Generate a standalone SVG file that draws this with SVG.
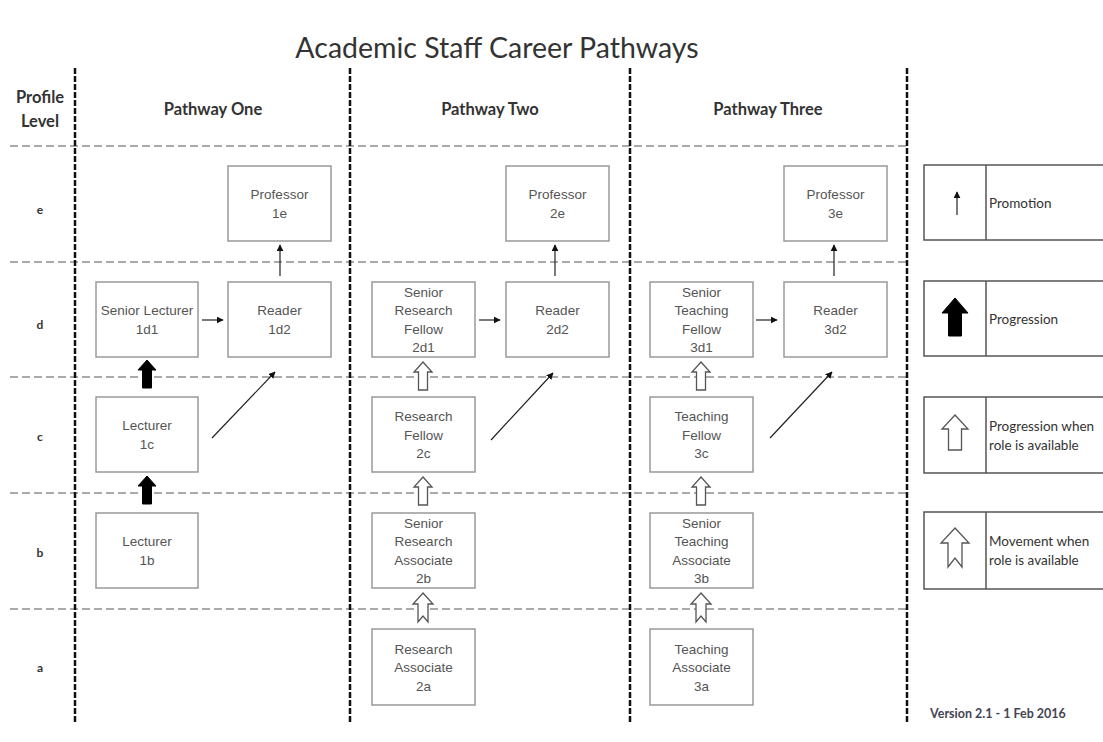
<svg xmlns="http://www.w3.org/2000/svg" width="1103" height="742" viewBox="0 0 1103 742">
<defs>
<style>
.title{font-family:Lato,"Liberation Sans",sans-serif;font-size:28.5px;fill:#333;text-anchor:middle}
.hdr{font-family:Lato,"Liberation Sans",sans-serif;font-size:16.5px;font-weight:bold;fill:#333;text-anchor:middle}
.row{font-family:Lato,"Liberation Sans",sans-serif;font-size:12px;font-weight:bold;fill:#333;text-anchor:middle}
.box{fill:#fff;stroke:#999;stroke-width:1.5}
.nt{font-family:"Liberation Sans",Arial,sans-serif;font-size:13.5px;fill:#555;text-anchor:middle}
.vl{stroke:#111;stroke-width:2.5;stroke-dasharray:6 2;fill:none}
.hl{stroke:#aaa;stroke-width:2;stroke-dasharray:8 4;fill:none}
.thin{stroke:#222;stroke-width:1.2;fill:none;marker-end:url(#ah)}
.prog{fill:#000;stroke:#000;stroke-width:1}
.hol{fill:#fff;stroke:#555;stroke-width:1.3}
.lg{fill:#fff;stroke:#555;stroke-width:1.5}
.lt{font-family:Lato,"Liberation Sans",sans-serif;font-size:13.5px;fill:#333}
</style>
<marker id="ah" viewBox="0 0 10 10" refX="9" refY="5" markerWidth="7" markerHeight="7" orient="auto" markerUnits="userSpaceOnUse">
<path d="M0,0 L10,5 L0,10 Z" fill="#111"/>
</marker>
<path id="pa" d="M0,0 L9,10 L4.5,10 L4.5,28 L-4.5,28 L-4.5,10 L-9,10 Z"/>
<path id="ma" d="M0,0 L10,11 L5,11 L5,29 L0,23 L-5,29 L-5,11 L-10,11 Z"/>
</defs>
<rect width="1103" height="742" fill="#fff"/>
<text class="title" x="497" y="58">Academic Staff Career Pathways</text>

<g id="grid">
<line class="hl" x1="10" y1="146" x2="907" y2="146"/>
<line class="hl" x1="10" y1="262" x2="907" y2="262"/>
<line class="hl" x1="10" y1="377" x2="907" y2="377"/>
<line class="hl" x1="10" y1="493" x2="907" y2="493"/>
<line class="hl" x1="10" y1="609" x2="907" y2="609"/>
<line class="vl" x1="75" y1="68" x2="75" y2="722"/>
<line class="vl" x1="350" y1="68" x2="350" y2="722"/>
<line class="vl" x1="630" y1="68" x2="630" y2="722"/>
<line class="vl" x1="907" y1="68" x2="907" y2="722"/>
</g>

<g id="headers">
<text class="hdr" x="40" y="103">Profile</text>
<text class="hdr" x="40" y="127">Level</text>
<text class="hdr" x="213" y="115">Pathway One</text>
<text class="hdr" x="490" y="115">Pathway Two</text>
<text class="hdr" x="768" y="115">Pathway Three</text>
<text class="row" x="40" y="214">e</text>
<text class="row" x="40" y="329">d</text>
<text class="row" x="40" y="441">c</text>
<text class="row" x="40" y="557">b</text>
<text class="row" x="40" y="672">a</text>
</g>

<g id="n1e"><rect class="box" x="228" y="166" width="103" height="75"/><text class="nt" x="279.5" y="199">Professor</text><text class="nt" x="279.5" y="217.5">1e</text></g>
<g id="n1d1"><rect class="box" x="96" y="282" width="102" height="75"/><text class="nt" x="147" y="315">Senior Lecturer</text><text class="nt" x="147" y="333.5">1d1</text></g>
<g id="n1d2"><rect class="box" x="228" y="282" width="103" height="75"/><text class="nt" x="279.5" y="315">Reader</text><text class="nt" x="279.5" y="333.5">1d2</text></g>
<g id="n1c"><rect class="box" x="96" y="397" width="102" height="75"/><text class="nt" x="147" y="430">Lecturer</text><text class="nt" x="147" y="448.5">1c</text></g>
<g id="n1b"><rect class="box" x="96" y="513" width="102" height="75"/><text class="nt" x="147" y="546">Lecturer</text><text class="nt" x="147" y="564.5">1b</text></g>

<g id="n2e"><rect class="box" x="506" y="166" width="103" height="75"/><text class="nt" x="557.5" y="199">Professor</text><text class="nt" x="557.5" y="217.5">2e</text></g>
<g id="n2d1"><rect class="box" x="372" y="282" width="103" height="75"/><text class="nt" x="423.5" y="296.5">Senior</text><text class="nt" x="423.5" y="315">Research</text><text class="nt" x="423.5" y="333.5">Fellow</text><text class="nt" x="423.5" y="352">2d1</text></g>
<g id="n2d2"><rect class="box" x="506" y="282" width="103" height="75"/><text class="nt" x="557.5" y="315">Reader</text><text class="nt" x="557.5" y="333.5">2d2</text></g>
<g id="n2c"><rect class="box" x="372" y="397" width="103" height="75"/><text class="nt" x="423.5" y="421">Research</text><text class="nt" x="423.5" y="439.5">Fellow</text><text class="nt" x="423.5" y="458">2c</text></g>
<g id="n2b"><rect class="box" x="372" y="513" width="103" height="75"/><text class="nt" x="423.5" y="527.5">Senior</text><text class="nt" x="423.5" y="546">Research</text><text class="nt" x="423.5" y="564.5">Associate</text><text class="nt" x="423.5" y="583">2b</text></g>
<g id="n2a"><rect class="box" x="372" y="629" width="103" height="76"/><text class="nt" x="423.5" y="653.5">Research</text><text class="nt" x="423.5" y="672">Associate</text><text class="nt" x="423.5" y="690.5">2a</text></g>

<g id="n3e"><rect class="box" x="784" y="166" width="103" height="75"/><text class="nt" x="835.5" y="199">Professor</text><text class="nt" x="835.5" y="217.5">3e</text></g>
<g id="n3d1"><rect class="box" x="650" y="282" width="103" height="75"/><text class="nt" x="701.5" y="296.5">Senior</text><text class="nt" x="701.5" y="315">Teaching</text><text class="nt" x="701.5" y="333.5">Fellow</text><text class="nt" x="701.5" y="352">3d1</text></g>
<g id="n3d2"><rect class="box" x="784" y="282" width="103" height="75"/><text class="nt" x="835.5" y="315">Reader</text><text class="nt" x="835.5" y="333.5">3d2</text></g>
<g id="n3c"><rect class="box" x="650" y="397" width="103" height="75"/><text class="nt" x="701.5" y="421">Teaching</text><text class="nt" x="701.5" y="439.5">Fellow</text><text class="nt" x="701.5" y="458">3c</text></g>
<g id="n3b"><rect class="box" x="650" y="513" width="103" height="75"/><text class="nt" x="701.5" y="527.5">Senior</text><text class="nt" x="701.5" y="546">Teaching</text><text class="nt" x="701.5" y="564.5">Associate</text><text class="nt" x="701.5" y="583">3b</text></g>
<g id="n3a"><rect class="box" x="650" y="629" width="103" height="76"/><text class="nt" x="701.5" y="653.5">Teaching</text><text class="nt" x="701.5" y="672">Associate</text><text class="nt" x="701.5" y="690.5">3a</text></g>

<g id="connectors">
<line class="thin" x1="280" y1="276" x2="280" y2="245"/>
<line class="thin" x1="202" y1="320" x2="223" y2="320"/>
<line class="thin" x1="212" y1="438" x2="275" y2="372"/>
<line class="thin" x1="555" y1="276" x2="555" y2="245"/>
<line class="thin" x1="479" y1="320" x2="500" y2="320"/>
<line class="thin" x1="491" y1="440" x2="553" y2="373"/>
<line class="thin" x1="834" y1="276" x2="834" y2="245"/>
<line class="thin" x1="756" y1="320" x2="777" y2="320"/>
<line class="thin" x1="770" y1="438" x2="832" y2="372"/>
<use href="#pa" class="prog" x="147" y="360"/>
<use href="#pa" class="prog" x="147" y="476"/>
<use href="#pa" class="hol" x="423" y="362"/>
<use href="#pa" class="hol" x="423" y="477"/>
<use href="#ma" class="hol" x="423" y="593"/>
<use href="#pa" class="hol" x="701" y="362"/>
<use href="#pa" class="hol" x="701" y="477"/>
<use href="#ma" class="hol" x="701" y="593"/>
</g>

<g id="legend">
<g id="lg1"><rect class="lg" x="924" y="165" width="180" height="75"/><line class="lg" x1="986" y1="165" x2="986" y2="240"/><line class="thin" x1="957" y1="215" x2="957" y2="192"/><text class="lt" x="989" y="208">Promotion</text></g>
<g id="lg2"><rect class="lg" x="924" y="281" width="180" height="75"/><line class="lg" x1="986" y1="281" x2="986" y2="356"/><path class="prog" d="M955,298 L968,313 L961.5,313 L961.5,336 L948.5,336 L948.5,313 L942,313 Z"/><text class="lt" x="989" y="324">Progression</text></g>
<g id="lg3"><rect class="lg" x="924" y="397" width="180" height="76"/><line class="lg" x1="986" y1="397" x2="986" y2="473"/><path class="hol" d="M955,415 L968,429 L961.5,429 L961.5,450 L948.5,450 L948.5,429 L942,429 Z"/><text class="lt" x="989" y="431">Progression when</text><text class="lt" x="989" y="450">role is available</text></g>
<g id="lg4"><rect class="lg" x="924" y="512" width="180" height="77"/><line class="lg" x1="986" y1="512" x2="986" y2="589"/><path class="hol" d="M955,528 L969,543 L962,543 L962,567 L955,558 L948,567 L948,543 L941,543 Z"/><text class="lt" x="989" y="546">Movement when</text><text class="lt" x="989" y="565">role is available</text></g>
</g>

<text x="998" y="718" style="font-family:Lato,'Liberation Sans',sans-serif;font-size:12.5px;font-weight:bold;fill:#445;text-anchor:middle">Version 2.1 - 1 Feb 2016</text>
</svg>
